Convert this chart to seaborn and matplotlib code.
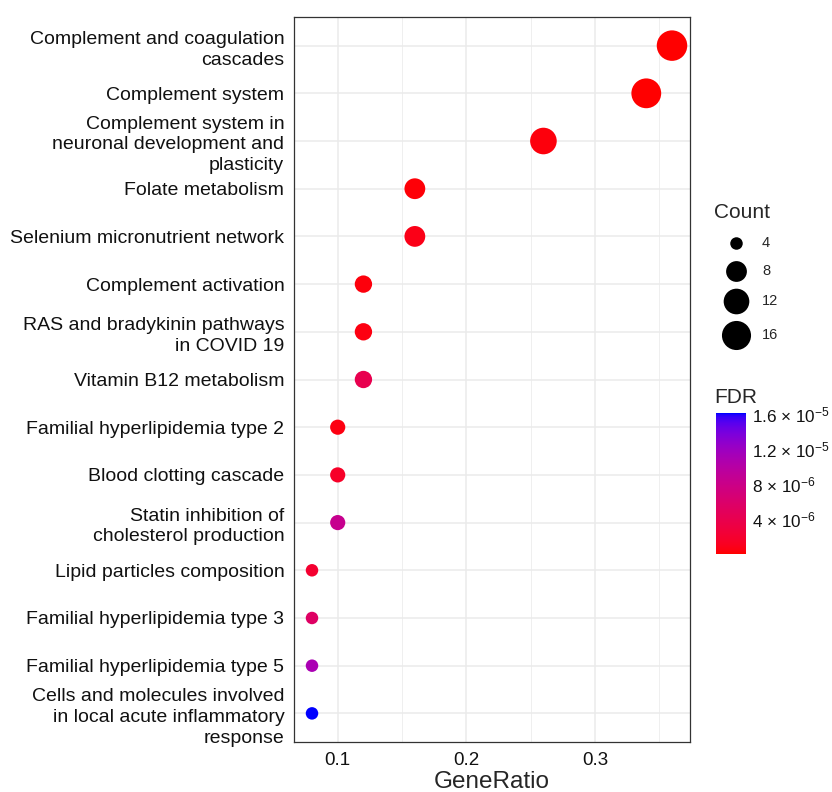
import numpy as np
import pandas as pd
import matplotlib
matplotlib.use("Agg")
import matplotlib.pyplot as plt
import seaborn as sns
from matplotlib.colors import ListedColormap, Normalize

# ---- data -------------------------------------------------------------
pathways = [
    "Complement and coagulation\ncascades",
    "Complement system",
    "Complement system in\nneuronal development and\nplasticity",
    "Folate metabolism",
    "Selenium micronutrient network",
    "Complement activation",
    "RAS and bradykinin pathways\nin COVID 19",
    "Vitamin B12 metabolism",
    "Familial hyperlipidemia type 2",
    "Blood clotting cascade",
    "Statin inhibition of\ncholesterol production",
    "Lipid particles composition",
    "Familial hyperlipidemia type 3",
    "Familial hyperlipidemia type 5",
    "Cells and molecules involved\nin local acute inflammatory\nresponse",
]
gene_ratio = [0.36, 0.34, 0.26, 0.16, 0.16, 0.12, 0.12, 0.12,
              0.10, 0.10, 0.10, 0.08, 0.08, 0.08, 0.08]
counts = [18, 17, 13, 8, 8, 6, 6, 6, 5, 5, 5, 4, 4, 4, 4]
fdr = [5e-8, 1e-7, 4e-7, 3e-7, 8e-7, 4e-7, 5e-7, 4.0e-6,
       5e-7, 1.6e-6, 8.5e-6, 2.0e-6, 5.5e-6, 1.1e-5, 1.61e-5]

count_breaks = [4, 8, 12, 16]
fdr_breaks = [4e-6, 8e-6, 1.2e-5, 1.6e-5]
fdr_break_labels = ["4 × 10$^{-6}$", "8 × 10$^{-6}$",
                    "1.2 × 10$^{-5}$", "1.6 × 10$^{-5}$"]
x_breaks = [0.1, 0.2, 0.3]

df = pd.DataFrame({"Pathway": pathways, "GeneRatio": gene_ratio,
                   "Count": counts, "FDR": fdr})

# ---- red -> blue gradient interpolated in CIE Lab ----------------------
_M = np.array([[0.4124, 0.3576, 0.1805],
               [0.2126, 0.7152, 0.0722],
               [0.0193, 0.1192, 0.9505]])
_WHITE = np.array([0.95047, 1.0, 1.08883])


def _to_lab(rgb):
    c = np.asarray(rgb, float)
    lin = np.where(c <= 0.04045, c / 12.92, ((c + 0.055) / 1.055) ** 2.4)
    xyz = _M @ lin / _WHITE
    d = 6 / 29
    f = np.where(xyz > d ** 3, np.cbrt(xyz), xyz / (3 * d * d) + 4 / 29)
    return np.array([116 * f[1] - 16, 500 * (f[0] - f[1]), 200 * (f[1] - f[2])])


def _from_lab(lab):
    L, a, b = lab
    fy = (L + 16) / 116
    f = np.array([fy + a / 500, fy, fy - b / 200])
    d = 6 / 29
    xyz = np.where(f > d, f ** 3, 3 * d * d * (f - 4 / 29)) * _WHITE
    lin = np.linalg.solve(_M, xyz)
    lin = np.clip(lin, 0, 1)
    c = np.where(lin <= 0.0031308, 12.92 * lin, 1.055 * lin ** (1 / 2.4) - 0.055)
    return np.clip(c, 0, 1)


lab_lo, lab_hi = _to_lab([1, 0, 0]), _to_lab([0, 0, 1])
cmap = ListedColormap([_from_lab(lab_lo + t * (lab_hi - lab_lo))
                       for t in np.linspace(0, 1, 256)])
norm = Normalize(vmin=min(fdr), vmax=max(fdr))

# marker areas (pt^2) for the Count scale
DPI = 100


def _area(c):
    d_px = -4.1 + 11.97 * np.log(c)
    return (d_px * 72 / DPI) ** 2


size_map = {c: _area(c) for c in sorted(set(counts) | set(count_breaks))}

# ---- figure -----------------------------------------------------------
sns.set_style("white")
plt.rcParams["font.family"] = ["Liberation Sans", "DejaVu Sans"]
plt.rcParams["mathtext.fontset"] = "custom"
plt.rcParams["mathtext.rm"] = "Liberation Sans"
plt.rcParams["mathtext.it"] = "Liberation Sans:italic"

W, H = 832, 792
fig = plt.figure(figsize=(W / DPI, H / DPI), dpi=DPI)
ax = fig.add_axes([294 / W, 1 - 742 / H, 396 / W, (742 - 17) / H])

sns.scatterplot(data=df, x="GeneRatio", y="Pathway", hue="FDR",
                hue_norm=norm, palette=cmap, size="Count", sizes=size_map,
                legend=False, linewidth=0, ax=ax, zorder=3)

ax.set_xlim(0.066, 0.374)
ax.set_ylim(len(pathways) - 1 + 0.6, -0.6)
ax.set_xticks(x_breaks)
ax.set_xticklabels([f"{v:.1f}" for v in x_breaks])
ax.set_xticks([0.15, 0.25, 0.35], minor=True)

ax.grid(True, which="major", color="#EBEBEB", linewidth=1.1, zorder=0)
ax.grid(True, which="minor", axis="x", color="#EBEBEB", linewidth=0.55, zorder=0)
ax.set_axisbelow(True)
for s in ax.spines.values():
    s.set_color("#333333")
    s.set_linewidth(0.9)
ax.tick_params(which="major", length=4, width=0.9, color="#333333",
               labelcolor="#111111", pad=3)
ax.tick_params(axis="y", labelsize=14.0)
ax.tick_params(axis="x", labelsize=13.5)
ax.tick_params(which="minor", length=0)
ax.set_xlabel("GeneRatio", fontsize=17.5, labelpad=2)
ax.set_ylabel("")

ax.set_yticks(range(len(pathways)))
ax.set_yticklabels(pathways, fontsize=14.0, multialignment="right",
                   linespacing=1.3)

# ---- Count legend -----------------------------------------------------
fig.text(714 / W, 1 - 213 / H, "Count", fontsize=15, va="center", ha="left")
leg = fig.add_axes([0, 0, 1, 1], facecolor="none")
leg.set_xlim(0, W)
leg.set_ylim(H, 0)
leg.axis("off")
key_y = [243, 271, 301, 335]
for c, y in zip(count_breaks, key_y):
    leg.scatter([736], [y], s=size_map[c], color="black", linewidth=0)
    leg.text(762, y, str(c), fontsize=10.5, va="center", ha="left")

# ---- FDR colourbar ----------------------------------------------------
fig.text(714 / W, 1 - 398 / H, "FDR", fontsize=15, va="center", ha="left")
cax = fig.add_axes([716 / W, 1 - 554 / H, 30 / W, 141 / H])
sm = plt.cm.ScalarMappable(norm=norm, cmap=cmap)
cb = fig.colorbar(sm, cax=cax)
cb.outline.set_visible(False)
cb.set_ticks(fdr_breaks)
cb.set_ticklabels(fdr_break_labels)
cax.minorticks_off()
cax.tick_params(which="major", direction="in", length=5, width=0.8,
                color="white", left=True, right=True, labelleft=False,
                labelright=True, labelsize=12.3, labelcolor="#111111", pad=4)

fig.savefig("out.png", dpi=DPI)
